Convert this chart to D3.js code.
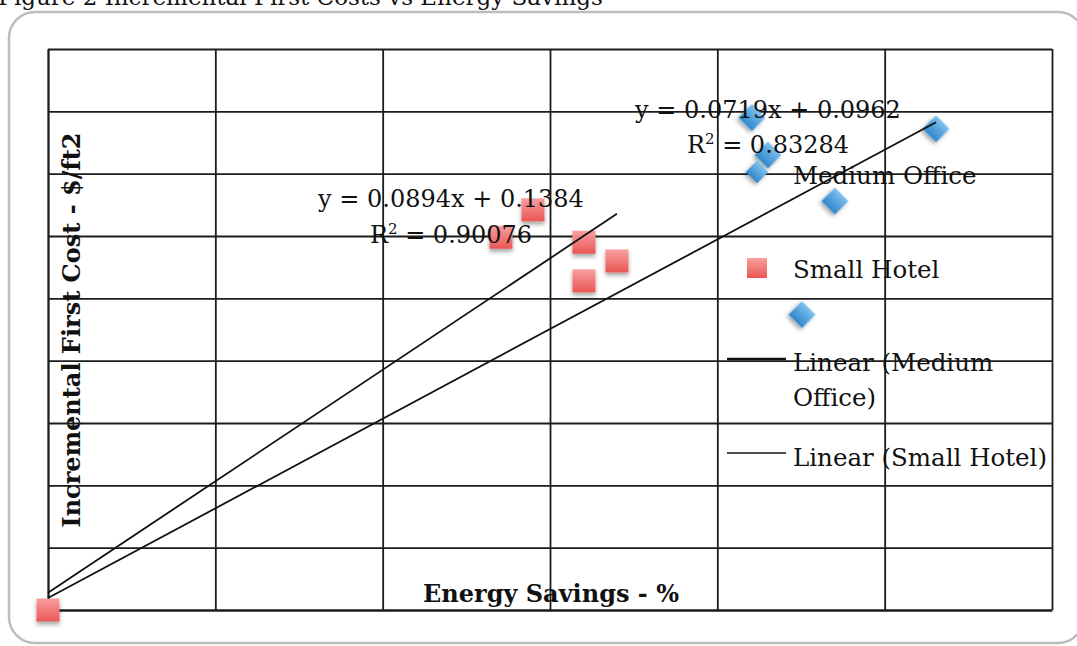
<!DOCTYPE html>
<html>
<head>
<meta charset="utf-8">
<script src="https://cdn.jsdelivr.net/npm/d3@7"></script>
<style>
  html, body { margin: 0; padding: 0; background: #fff; overflow: hidden; }
  svg { display: block; }
  text { font-family: "DejaVu Serif", "Liberation Serif", serif; fill: #111; }
</style>
</head>
<body>
<svg id="chart" width="1077" height="646"></svg>
<script>
// ---- data ----
const smallHotelX = [0, 28.98, 27.07, 32.03, 34.0, 32.03];
const smallHotelY = [0, 3.21, 2.99, 2.95, 2.80, 2.64];
const mediumOfficeX = [42.07, 43.03, 47.03, 53.07, 45.06];
const mediumOfficeY = [3.95, 3.65, 3.28, 3.86, 2.37];
const trendSlopes = [0.0719, 0.0894];       // Medium Office, Small Hotel
const trendIntercepts = [0.0962, 0.1384];
const equationLabels = ["y = 0.0719x + 0.0962", "y = 0.0894x + 0.1384"];
const r2Labels = ["0.83284", "0.90076"];
const xTicks = [0, 10, 20, 30, 40, 50, 60];
const yTicks = [0, 0.5, 1, 1.5, 2, 2.5, 3, 3.5, 4, 4.5];
const legendLabels = ["Medium Office", "Small Hotel", "Linear (Medium", "Office)", "Linear (Small Hotel)"];
const titleText = "Figure 2 Incremental First Costs vs Energy Savings";
const xTitle = "Energy Savings - %";
const yTitle = "Incremental First Cost - $/ft2";

// ---- layout ----
const svg = d3.select("#chart");
const L = 48, R = 1052, T = 49, B = 610;
const x = d3.scaleLinear().domain([0, 60]).range([L, R]);
const y = d3.scaleLinear().domain([0, 4.5]).range([B, T]);

const defs = svg.append("defs");
const sh = defs.append("filter").attr("id", "shadow").attr("x", "-50%").attr("y", "-50%").attr("width", "200%").attr("height", "200%");
sh.append("feDropShadow").attr("dx", 0).attr("dy", 3).attr("stdDeviation", 2).attr("flood-color", "#000").attr("flood-opacity", 0.35);
const gr = defs.append("linearGradient").attr("id", "redG").attr("x1", 0).attr("y1", 0).attr("x2", 0).attr("y2", 1);
gr.append("stop").attr("offset", "0%").attr("stop-color", "#f7a0a0");
gr.append("stop").attr("offset", "100%").attr("stop-color", "#ea5654");
const gb = defs.append("linearGradient").attr("id", "blueG").attr("x1", 0).attr("y1", 0).attr("x2", 0).attr("y2", 1);
gb.append("stop").attr("offset", "0%").attr("stop-color", "#7ec0ee");
gb.append("stop").attr("offset", "100%").attr("stop-color", "#2f86cb");

// title (clipped at top, as in the source figure)
svg.append("text").attr("x", -2).attr("y", 5).attr("font-size", 23).text(titleText);

// chart frame
svg.append("rect").attr("x", 9).attr("y", 12).attr("width", 1075).attr("height", 631)
  .attr("rx", 26).attr("ry", 26).attr("fill", "#fff").attr("stroke", "#bdbdbd").attr("stroke-width", 2.5);

// grid via axes
const gx = svg.append("g").attr("transform", `translate(0,${B})`)
  .call(d3.axisBottom(x).tickValues(xTicks).tickSizeInner(-(B - T)).tickSizeOuter(0).tickFormat(""));
const gy = svg.append("g").attr("transform", `translate(${L},0)`)
  .call(d3.axisLeft(y).tickValues(yTicks).tickSizeInner(-(R - L)).tickSizeOuter(0).tickFormat(""));
[gx, gy].forEach(g => {
  g.selectAll("line").attr("stroke", "#1c1c1c").attr("stroke-width", 1.8);
  g.select(".domain").attr("stroke", "#1c1c1c").attr("stroke-width", 1.8);
});

// markers
const sq = 23, dm = 19;
svg.append("g").selectAll("rect").data(smallHotelX.map((v, i) => [v, smallHotelY[i]])).join("rect")
  .attr("x", d => x(d[0]) - sq / 2).attr("y", d => y(d[1]) - sq / 2)
  .attr("width", sq).attr("height", sq).attr("fill", "url(#redG)").attr("filter", "url(#shadow)");
svg.append("g").selectAll("rect").data(mediumOfficeX.map((v, i) => [v, mediumOfficeY[i]])).join("rect")
  .attr("x", -dm / 2).attr("y", -dm / 2).attr("width", dm).attr("height", dm)
  .attr("transform", d => `translate(${x(d[0])},${y(d[1])}) rotate(45)`)
  .attr("fill", "url(#blueG)").attr("filter", "url(#shadow)");

// trend lines
const extents = [d3.max(mediumOfficeX), d3.max(smallHotelX)];
trendSlopes.forEach((m, i) => {
  const x1 = extents[i];
  svg.append("line").attr("x1", x(0)).attr("y1", y(trendIntercepts[i]))
    .attr("x2", x(x1)).attr("y2", y(m * x1 + trendIntercepts[i]))
    .attr("stroke", "#111").attr("stroke-width", 1.8);
});

// equations
const eqPos = [[768, 118, 153], [451, 207, 243]];
equationLabels.forEach((t, i) => {
  const [cx, y1, y2] = eqPos[i];
  svg.append("text").attr("x", cx).attr("y", y1).attr("text-anchor", "middle").attr("font-size", 24).text(t);
  const r = svg.append("text").attr("x", cx).attr("y", y2).attr("text-anchor", "middle").attr("font-size", 24);
  r.append("tspan").text("R");
  r.append("tspan").attr("dy", -9).attr("font-size", 15).text("2");
  r.append("tspan").attr("dy", 9).text(" = " + r2Labels[i]);
});

// legend
const lg = svg.append("g");
lg.append("rect").attr("x", -8).attr("y", -8).attr("width", 16).attr("height", 16)
  .attr("transform", "translate(757,172) rotate(45)").attr("fill", "url(#blueG)").attr("filter", "url(#shadow)");
lg.append("text").attr("x", 793).attr("y", 184).attr("font-size", 24.5).text(legendLabels[0]);
lg.append("rect").attr("x", 747).attr("y", 258).attr("width", 20).attr("height", 20).attr("fill", "url(#redG)");
lg.append("text").attr("x", 793).attr("y", 278).attr("font-size", 24.5).text(legendLabels[1]);
lg.append("line").attr("x1", 727).attr("x2", 786).attr("y1", 359).attr("y2", 359).attr("stroke", "#111").attr("stroke-width", 2.6);
lg.append("text").attr("x", 793).attr("y", 371).attr("font-size", 24.5).text(legendLabels[2]);
lg.append("text").attr("x", 793).attr("y", 406).attr("font-size", 24.5).text(legendLabels[3]);
lg.append("line").attr("x1", 727).attr("x2", 786).attr("y1", 453).attr("y2", 453).attr("stroke", "#111").attr("stroke-width", 1.6);
lg.append("text").attr("x", 793).attr("y", 466).attr("font-size", 24.5).text(legendLabels[4]);

// axis titles
svg.append("text").attr("x", 551).attr("y", 602).attr("text-anchor", "middle")
  .attr("font-size", 24).attr("font-weight", "bold").text(xTitle);
svg.append("text").attr("transform", "translate(80,330) rotate(-90)").attr("text-anchor", "middle")
  .attr("font-size", 24).attr("font-weight", "bold").text(yTitle);
</script>
</body>
</html>
